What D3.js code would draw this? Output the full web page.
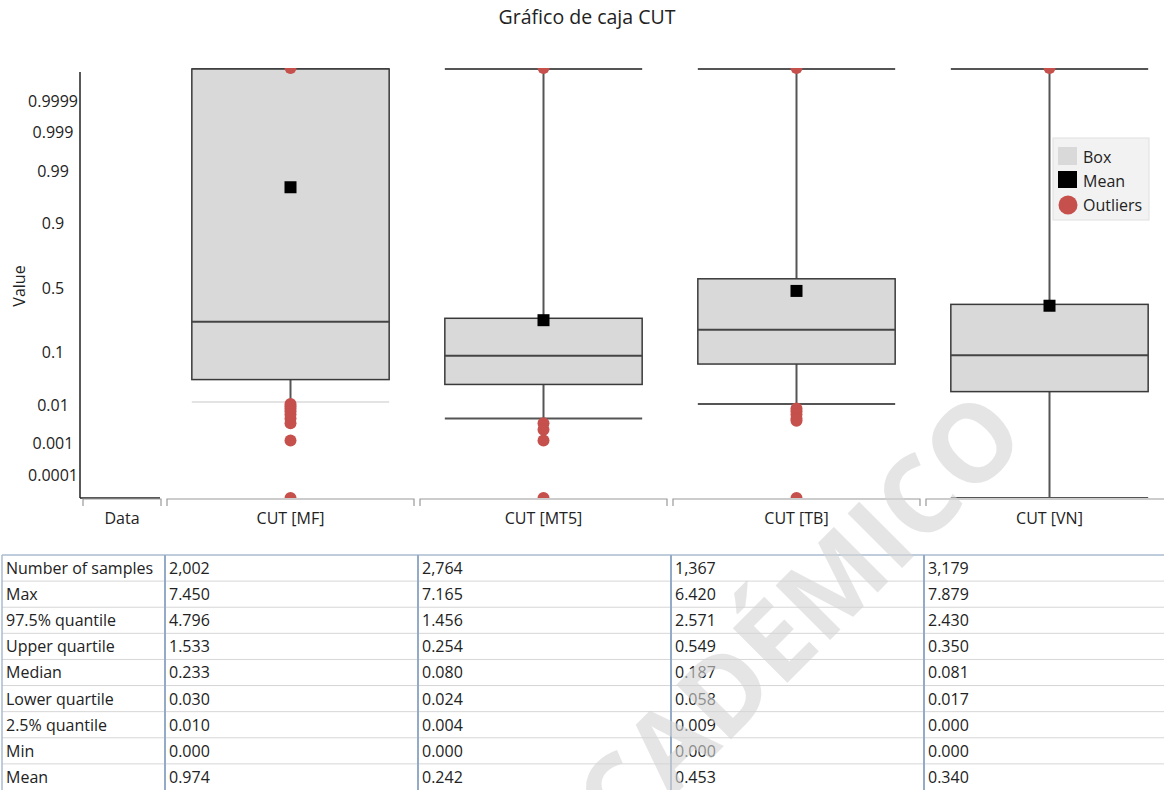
<!DOCTYPE html>
<html>
<head>
<meta charset="utf-8">
<script src="https://cdn.jsdelivr.net/npm/d3@7"></script>
<style>
  body { margin: 0; background: #fff; }
  svg { font-family: "Open Sans", sans-serif; }
</style>
</head>
<body>
<svg width="1164" height="790"></svg>
<script>
// values
const categories = ['CUT [MF]', 'CUT [MT5]', 'CUT [TB]', 'CUT [VN]'];
const samples = [2002, 2764, 1367, 3179];
const maxVals = [7.450, 7.165, 6.420, 7.879];
const q975 = [4.796, 1.456, 2.571, 2.430];
const upperQ = [1.533, 0.254, 0.549, 0.350];
const medians = [0.233, 0.080, 0.187, 0.081];
const lowerQ = [0.030, 0.024, 0.058, 0.017];
const q025 = [0.010, 0.004, 0.009, 0.000];
const minVals = [0.000, 0.000, 0.000, 0.000];
const means = [0.974, 0.242, 0.453, 0.340];
// outliers (estimated from the dots)
const outliers = [
  [7.450, 0.009, 0.008, 0.007, 0.006, 0.005, 0.004, 0.003, 0.001, 0.000],
  [7.165, 0.003, 0.002, 0.001, 0.000],
  [6.420, 0.007, 0.006, 0.005, 0.004, 0.0035, 0.000],
  [7.879]
];
const tickLabels = ['0.0001', '0.001', '0.01', '0.1', '0.5', '0.9', '0.99', '0.999', '0.9999'];
const rowLabels = ['Number of samples', 'Max', '97.5% quantile', 'Upper quartile', 'Median',
  'Lower quartile', '2.5% quantile', 'Min', 'Mean'];

const [width, height] = [1164, 790];
const svg = d3.select('svg');

// inverse normal cdf (Acklam) -> probability scale
function probit(p) {
  const a = [-3.969683028665376e+01, 2.209460984245205e+02, -2.759285104469687e+02, 1.383577518672690e+02, -3.066479806614716e+01, 2.506628277459239e+00];
  const b = [-5.447609879822406e+01, 1.615858368580409e+02, -1.556989798598866e+02, 6.680131188771972e+01, -1.328068155288572e+01];
  const c = [-7.784894002430293e-03, -3.223964580411365e-01, -2.400758277161838e+00, -2.549732539343734e+00, 4.374664141464968e+00, 2.938163982698783e+00];
  const d = [7.784695709041462e-03, 3.224671290700398e-01, 2.445134137142996e+00, 3.754408661907416e+00];
  const plow = 0.02425;
  let q, r;
  if (p < plow) {
    q = Math.sqrt(-2 * Math.log(p));
    return (((((c[0]*q+c[1])*q+c[2])*q+c[3])*q+c[4])*q+c[5]) / ((((d[0]*q+d[1])*q+d[2])*q+d[3])*q+1);
  }
  if (p <= 1 - plow) {
    q = p - 0.5; r = q * q;
    return (((((a[0]*r+a[1])*r+a[2])*r+a[3])*r+a[4])*r+a[5])*q / (((((b[0]*r+b[1])*r+b[2])*r+b[3])*r+b[4])*r+1);
  }
  q = Math.sqrt(-2 * Math.log(1 - p));
  return -(((((c[0]*q+c[1])*q+c[2])*q+c[3])*q+c[4])*q+c[5]) / ((((d[0]*q+d[1])*q+d[2])*q+d[3])*q+1);
}

const y = d3.scaleLinear()
  .domain([-4.235, 4.314])
  .range([498, 68])
  .clamp(true);

// values outside (0,1) stick to the plot edges
function yv(v) {
  if (v <= 0) return y.range()[0];
  if (v >= 1) return y.range()[1];
  return y(probit(v));
}

const axisX = 80;
const x = d3.scaleBand()
  .domain(categories)
  .range([164, 1176]);
const boxW = x.bandwidth() * 0.78;
const cx = c => x(c) + x.bandwidth() / 2;

// plot area clip (outliers on the edges show as half dots)
svg.append('clipPath').attr('id', 'plotclip')
  .append('rect')
  .attr('x', axisX).attr('y', y.range()[1])
  .attr('width', width - axisX).attr('height', y.range()[0] - y.range()[1]);

// title
svg.append('text')
  .attr('x', 587).attr('y', 24)
  .attr('text-anchor', 'middle')
  .attr('font-size', 19.5)
  .attr('fill', '#222')
  .text('Gráfico de caja CUT');

// y axis
const yAxis = svg.append('g')
  .attr('transform', `translate(${axisX},0)`)
  .call(d3.axisLeft(y)
    .tickValues(tickLabels.map(t => probit(+t)))
    .tickFormat((d, i) => tickLabels[i])
    .tickSize(0));
yAxis.select('.domain').remove();
yAxis.selectAll('text')
  .attr('x', -27)
  .attr('dy', '0.52em')
  .attr('text-anchor', 'middle')
  .attr('font-family', '"Open Sans", sans-serif')
  .attr('font-size', 16)
  .attr('fill', '#222');

svg.append('line')
  .attr('x1', axisX).attr('x2', axisX)
  .attr('y1', 72).attr('y2', y.range()[0])
  .attr('stroke', '#222').attr('stroke-width', 1.5);
svg.append('line')
  .attr('x1', axisX).attr('x2', x.range()[0] - 4)
  .attr('y1', y.range()[0]).attr('y2', y.range()[0])
  .attr('stroke', '#222').attr('stroke-width', 1.5);

svg.append('text')
  .attr('transform', `translate(25, 286) rotate(-90)`)
  .attr('text-anchor', 'middle')
  .attr('font-size', 16)
  .attr('fill', '#222')
  .text('Value');

// category brackets along the bottom
const bands = [{ name: 'Data', x0: axisX, x1: x.range()[0] }]
  .concat(categories.map(c => ({ name: c, x0: x(c), x1: x(c) + x.bandwidth() })));
const yb = y.range()[0] + 1;
svg.append('g').selectAll('path')
  .data(bands)
  .join('path')
  .attr('d', d => `M${Math.max(d.x0 + 3, axisX)},${yb + 7}V${yb}H${d.x1 - 3}V${yb + 7}`)
  .attr('fill', 'none')
  .attr('stroke', '#999')
  .attr('stroke-width', 1.2);
svg.append('g').selectAll('text')
  .data(bands)
  .join('text')
  .attr('x', d => (d.x0 + d.x1) / 2)
  .attr('y', 524)
  .attr('text-anchor', 'middle')
  .attr('font-size', 16)
  .attr('fill', '#222')
  .text(d => d.name);

// boxes
const boxes = svg.append('g')
  .attr('clip-path', 'url(#plotclip)')
  .selectAll('g')
  .data(categories)
  .join('g');

// whiskers
boxes.append('line')
  .attr('x1', c => cx(c)).attr('x2', c => cx(c))
  .attr('y1', (c, i) => yv(q975[i])).attr('y2', (c, i) => yv(upperQ[i]))
  .attr('stroke', '#555').attr('stroke-width', 2);
boxes.append('line')
  .attr('x1', c => cx(c)).attr('x2', c => cx(c))
  .attr('y1', (c, i) => yv(lowerQ[i])).attr('y2', (c, i) => yv(q025[i]))
  .attr('stroke', '#555').attr('stroke-width', 2);
// caps
[q975, q025].forEach(arr => {
  boxes.append('line')
    .attr('x1', c => cx(c) - boxW / 2).attr('x2', c => cx(c) + boxW / 2)
    .attr('y1', (c, i) => yv(arr[i]) + (arr === q975 ? 1 : 0))
    .attr('y2', (c, i) => yv(arr[i]) + (arr === q975 ? 1 : 0))
    .attr('stroke', (c, i) => i === 0 && arr === q025 ? '#c8c8c8' : '#555')
    .attr('stroke-width', (c, i) => i === 0 && arr === q025 ? 1.2 : 2);
});

boxes.append('rect')
  .attr('x', c => cx(c) - boxW / 2)
  .attr('width', boxW)
  .attr('y', (c, i) => yv(upperQ[i]) + (upperQ[i] >= 1 ? 1 : 0))
  .attr('height', (c, i) => yv(lowerQ[i]) - yv(upperQ[i]) - (upperQ[i] >= 1 ? 1 : 0))
  .attr('fill', '#d9d9d9')
  .attr('stroke', '#3a3a3a')
  .attr('stroke-width', 1.5);

boxes.append('line')
  .attr('x1', c => cx(c) - boxW / 2).attr('x2', c => cx(c) + boxW / 2)
  .attr('y1', (c, i) => yv(medians[i])).attr('y2', (c, i) => yv(medians[i]))
  .attr('stroke', '#444').attr('stroke-width', 2);

// outliers
boxes.each(function (c, i) {
  d3.select(this).selectAll('circle')
    .data(outliers[i])
    .join('circle')
    .attr('cx', cx(c))
    .attr('cy', d => yv(d))
    .attr('r', 6)
    .attr('fill', '#c5504c');
});

// mean
boxes.append('rect')
  .attr('x', c => cx(c) - 6)
  .attr('y', (c, i) => yv(means[i]) - 6)
  .attr('width', 12).attr('height', 12)
  .attr('fill', '#000');

// legend
const legend = svg.append('g').attr('transform', 'translate(1053,138)');
legend.append('rect')
  .attr('width', 96).attr('height', 82)
  .attr('fill', '#f2f2f2').attr('stroke', '#e0e0e0');
legend.append('rect').attr('x', 5).attr('y', 9).attr('width', 19).attr('height', 18).attr('fill', '#d9d9d9');
legend.append('rect').attr('x', 5).attr('y', 33).attr('width', 19).attr('height', 17).attr('fill', '#000');
legend.append('circle').attr('cx', 15).attr('cy', 67).attr('r', 9.5).attr('fill', '#c5504c');
legend.selectAll('text')
  .data(['Box', 'Mean', 'Outliers'])
  .join('text')
  .attr('x', 30)
  .attr('y', (d, i) => 25 + i * 24)
  .attr('font-size', 16)
  .attr('fill', '#222')
  .text(d => d);

// stats table
const fmt = d3.format('.3f');
const tableVals = [samples.map(d3.format(',')), maxVals.map(fmt), q975.map(fmt), upperQ.map(fmt),
  medians.map(fmt), lowerQ.map(fmt), q025.map(fmt), minVals.map(fmt), means.map(fmt)];

const rowY = d3.scaleBand()
  .domain(rowLabels)
  .range([555, height]);

const table = svg.append('g');
table.selectAll('line.row')
  .data(rowLabels.slice(1))
  .join('line')
  .attr('class', 'row')
  .attr('x1', 2).attr('x2', width)
  .attr('y1', d => rowY(d)).attr('y2', d => rowY(d))
  .attr('stroke', '#d6d6d6');
table.append('line')
  .attr('x1', 2).attr('x2', width)
  .attr('y1', rowY.range()[0]).attr('y2', rowY.range()[0])
  .attr('stroke', '#a8bbcf').attr('stroke-width', 1.5);
table.append('line')
  .attr('x1', 2).attr('x2', 2)
  .attr('y1', rowY.range()[0]).attr('y2', height)
  .attr('stroke', '#a8bbcf').attr('stroke-width', 1.5);
table.selectAll('line.col')
  .data(categories)
  .join('line')
  .attr('class', 'col')
  .attr('x1', c => x(c) + 1).attr('x2', c => x(c) + 1)
  .attr('y1', rowY.range()[0]).attr('y2', height)
  .attr('stroke', '#93abc6').attr('stroke-width', 2);

table.selectAll('text.lab')
  .data(rowLabels)
  .join('text')
  .attr('class', 'lab')
  .attr('x', 6)
  .attr('y', d => rowY(d) + 19)
  .attr('font-size', 16)
  .attr('fill', '#222')
  .text(d => d);

rowLabels.forEach((r, ri) => {
  table.append('g').selectAll('text')
    .data(categories)
    .join('text')
    .attr('x', c => x(c) + 5)
    .attr('y', rowY(r) + 19)
    .attr('font-size', 16)
    .attr('fill', '#222')
    .text((c, i) => tableVals[ri][i]);
});

// watermark
svg.append('text')
  .attr('transform', 'translate(1030,440) rotate(-45)')
  .attr('text-anchor', 'end')
  .attr('font-size', 108)
  .attr('font-weight', 700)
  .attr('fill', 'rgb(213,213,213)')
  .attr('opacity', 0.6)
  .text('ACADÉMICO');
</script>
</body>
</html>
